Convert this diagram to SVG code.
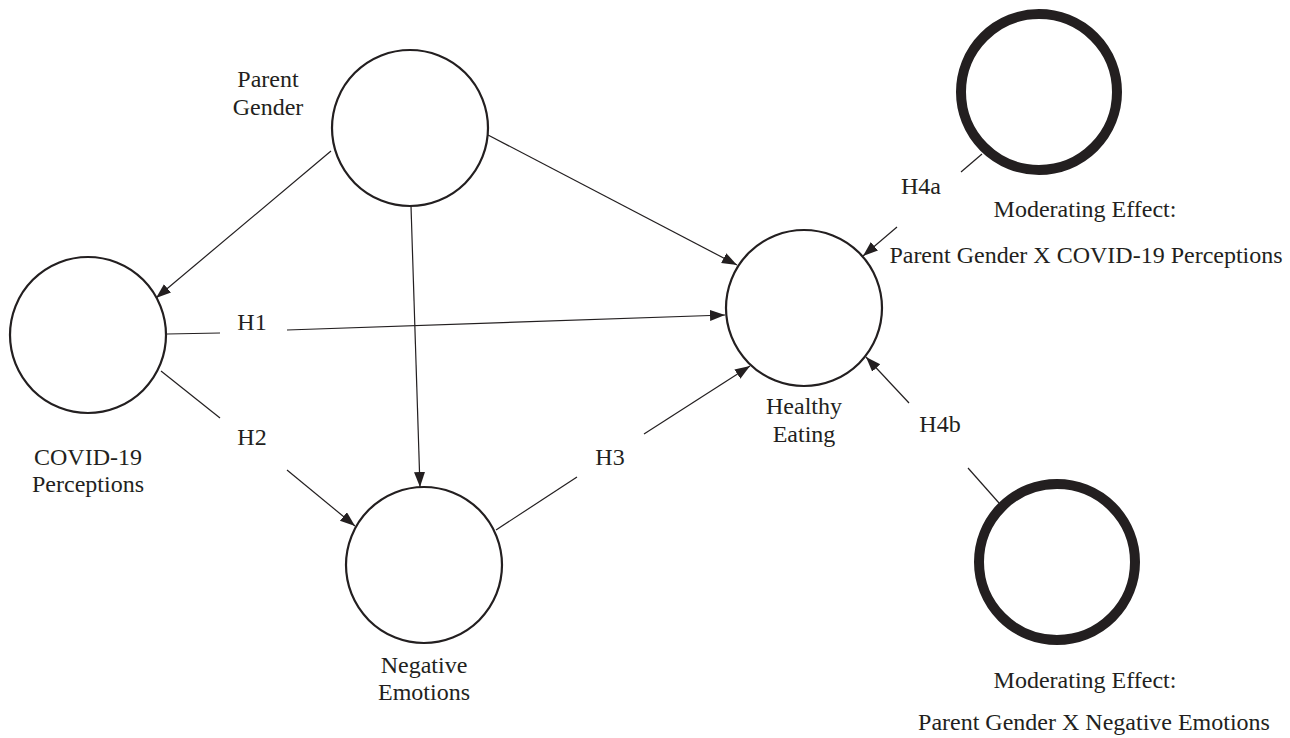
<svg xmlns="http://www.w3.org/2000/svg" width="1290" height="738" viewBox="0 0 1290 738">
<style>
.node{fill:#fff;stroke:#231f20;stroke-width:2.2}
.mod{fill:#fff;stroke:#231f20;stroke-width:10}
.edge{fill:none;stroke:#231f20;stroke-width:1.2}
text{font-family:"Liberation Serif","Times New Roman",serif;font-size:24px;fill:#231f20;text-anchor:middle}
</style>
<defs>
<marker id="arr" markerUnits="userSpaceOnUse" markerWidth="16" markerHeight="12" refX="15" refY="5.5" orient="auto">
<path d="M0,0 L15,5.5 L0,11 z" fill="#231f20"/>
</marker>
</defs>
<rect width="1290" height="738" fill="#fff"/>
<g id="connectors">
<line class="edge" x1="331" y1="151" x2="156" y2="298" marker-end="url(#arr)"/>
<line class="edge" x1="488" y1="135" x2="737" y2="265" marker-end="url(#arr)"/>
<line class="edge" x1="411" y1="206" x2="420" y2="487" marker-end="url(#arr)"/>
<line class="edge" x1="167" y1="334" x2="220" y2="333"/>
<line class="edge" x1="287" y1="330" x2="725" y2="315" marker-end="url(#arr)"/>
<line class="edge" x1="161" y1="371" x2="220" y2="418"/>
<line class="edge" x1="287" y1="470" x2="355" y2="526" marker-end="url(#arr)"/>
<line class="edge" x1="496" y1="530" x2="577" y2="477"/>
<line class="edge" x1="644" y1="434" x2="750" y2="366" marker-end="url(#arr)"/>
<line class="edge" x1="982" y1="154" x2="961" y2="172"/>
<line class="edge" x1="897" y1="227" x2="863" y2="256" marker-end="url(#arr)"/>
<line class="edge" x1="999" y1="503" x2="968" y2="468"/>
<line class="edge" x1="909" y1="403" x2="866" y2="357" marker-end="url(#arr)"/>
<text x="252" y="330">H1</text>
<text x="252" y="445">H2</text>
<text x="610" y="465">H3</text>
<text x="921" y="194">H4a</text>
<text x="940" y="432">H4b</text>
</g>
<g id="parent-gender">
<circle class="node" cx="410" cy="128" r="78"/>
<text x="268" y="87">Parent</text>
<text x="268" y="115">Gender</text>
</g>
<g id="covid-perceptions">
<circle class="node" cx="88" cy="335" r="78"/>
<text x="88" y="465">COVID-19</text>
<text x="88" y="492">Perceptions</text>
</g>
<g id="negative-emotions">
<circle class="node" cx="424" cy="565" r="78"/>
<text x="424" y="673">Negative</text>
<text x="424" y="700">Emotions</text>
</g>
<g id="healthy-eating">
<circle class="node" cx="804" cy="308" r="78"/>
<text x="804" y="414">Healthy</text>
<text x="804" y="442">Eating</text>
</g>
<g id="mod-covid">
<circle class="mod" cx="1039" cy="92" r="78"/>
<text x="1085" y="217">Moderating Effect:</text>
<text x="1086" y="263">Parent Gender X COVID-19 Perceptions</text>
</g>
<g id="mod-negative">
<circle class="mod" cx="1057" cy="562" r="78"/>
<text x="1085" y="688">Moderating Effect:</text>
<text x="1094" y="730">Parent Gender X Negative Emotions</text>
</g>
</svg>
